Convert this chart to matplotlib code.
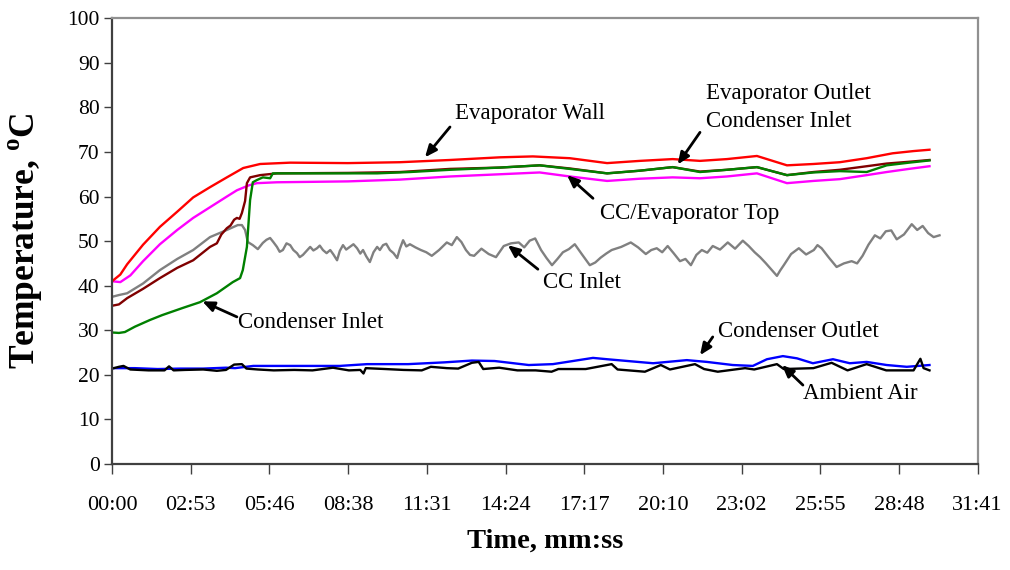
import matplotlib
matplotlib.use('Agg')
import matplotlib.pyplot as plt

# Time axis is in seconds; tick labels are mm:ss
tick_seconds = [k * 172.8 for k in range(12)]
tick_labels = ['00:00', '02:53', '05:46', '08:38', '11:31', '14:24',
               '17:17', '20:10', '23:02', '25:55', '28:48', '31:41']

# Evaporator wall (red)
wall_t = [0, 18, 33, 68, 105, 143, 178, 215, 252, 288, 325, 391, 518, 632, 742,
          852, 924, 1005, 1087, 1159, 1231, 1291, 1350, 1416, 1482, 1540, 1598,
          1657, 1714, 1760, 1795]
wall_T = [41.0, 42.5, 44.8, 49.2, 53.2, 56.6, 59.8, 62.1, 64.3, 66.4, 67.3, 67.6,
          67.5, 67.7, 68.2, 68.8, 69.0, 68.6, 67.5, 68.0, 68.4, 68.0, 68.4, 69.1,
          67.0, 67.3, 67.7, 68.6, 69.7, 70.2, 70.5]

# CC / evaporator top (magenta)
top_t = [0, 18, 40, 68, 105, 143, 178, 215, 252, 274, 300, 318, 362, 518, 632,
         742, 852, 939, 1005, 1087, 1159, 1231, 1291, 1350, 1416, 1482, 1540,
         1598, 1657, 1701, 1750, 1795]
top_T = [41.0, 40.8, 42.3, 45.5, 49.3, 52.5, 55.2, 57.6, 60.0, 61.4, 62.5, 63.0,
         63.2, 63.4, 63.8, 64.5, 65.0, 65.4, 64.5, 63.5, 64.0, 64.3, 64.1, 64.5,
         65.2, 63.0, 63.5, 63.9, 64.8, 65.5, 66.2, 66.8]

# Evaporator outlet (dark red)
outlet_t = [0, 15, 33, 68, 105, 143, 178, 215, 230, 240, 252, 260, 268, 274, 280,
            285, 292, 296, 303, 325, 362, 518, 632, 742, 852, 939, 1005, 1087,
            1159, 1231, 1291, 1350, 1416, 1482, 1540, 1598, 1657, 1701, 1750, 1795]
outlet_T = [35.5, 35.8, 37.2, 39.3, 41.7, 44.0, 45.7, 48.7, 49.5, 51.5, 52.9, 53.5,
            54.8, 55.2, 55.0, 56.3, 59.0, 63.0, 64.3, 64.8, 65.2, 65.3, 65.5, 66.2,
            66.5, 67.0, 66.3, 65.2, 65.8, 66.6, 65.6, 66.0, 66.6, 64.8, 65.5, 66.0,
            66.8, 67.4, 67.8, 68.2]

# Condenser inlet (green)
cond_in_t = [0, 15, 28, 50, 83, 110, 155, 193, 230, 265, 281, 287, 296, 303, 309,
             318, 331, 347, 353, 436, 582, 654, 742, 852, 939, 1005, 1087, 1159,
             1231, 1291, 1350, 1416, 1482, 1540, 1598, 1657, 1701, 1750, 1795]
cond_in_T = [29.5, 29.4, 29.6, 30.8, 32.3, 33.4, 35.0, 36.3, 38.3, 40.8, 41.7, 43.5,
             48.7, 59.2, 63.2, 63.7, 64.3, 64.1, 65.2, 65.2, 65.2, 65.5, 66.0, 66.5,
             67.0, 66.2, 65.2, 65.8, 66.6, 65.5, 66.0, 66.6, 64.8, 65.4, 65.7, 65.5,
             67.0, 67.6, 68.1]

# CC inlet (grey)
cc_in_t = [0, 15, 33, 68, 105, 143, 178, 215, 252, 276, 285, 292, 298,
           309, 320, 331, 339, 347, 354, 362,
           368, 375, 383, 391, 398, 406, 412, 419, 427, 435,
           442, 450, 456, 463, 471, 479, 486, 494, 500, 507,
           514, 522, 530, 538, 545, 551, 558, 566, 574, 582,
           588, 595, 602, 610, 618, 626, 632, 639, 646, 654,
           666, 678, 690, 702, 718, 735, 746, 757, 767, 777,
           786, 795, 811, 827, 843, 860, 876, 893, 905, 917,
           929, 942, 954, 966, 978, 990, 1003, 1016, 1032, 1049,
           1061, 1073, 1085, 1097, 1118, 1139, 1155, 1172, 1184, 1196,
           1208, 1220, 1233, 1247, 1259, 1271, 1283, 1295, 1307, 1319,
           1335, 1352, 1368, 1385, 1398, 1411, 1423, 1435, 1447, 1460,
           1467, 1475, 1491, 1508, 1524, 1541, 1549, 1558, 1574, 1591,
           1607, 1624, 1636, 1648, 1661, 1675, 1687, 1699, 1711, 1723,
           1739, 1756, 1768, 1780, 1792, 1804, 1817]
cc_in_T = [37.5, 37.9, 38.3, 40.5, 43.5, 46.0, 48.0, 50.9, 52.5, 53.6, 53.6, 52.5, 49.8,
           49.1, 48.2, 49.6, 50.3, 50.7, 49.8, 48.7,
           47.6, 48.0, 49.5, 49.1, 48.0, 47.3, 46.4, 46.9, 47.8, 48.7,
           47.9, 48.4, 49.0, 48.0, 47.3, 48.0, 47.0, 45.7, 47.8, 49.1,
           48.1, 48.7, 49.3, 48.4, 47.2, 48.0, 46.6, 45.3, 47.5, 48.7,
           48.0, 49.1, 49.4, 48.0, 47.3, 46.2, 48.3, 50.2, 48.8, 49.3,
           48.6, 48.0, 47.5, 46.7, 48.0, 49.7, 49.1, 50.9, 49.8, 48.0,
           46.9, 46.7, 48.3, 47.1, 46.4, 48.9, 49.5, 49.7, 48.6, 50.1,
           50.6, 48.0, 46.2, 44.6, 46.0, 47.5, 48.2, 49.3, 47.0, 44.6,
           45.2, 46.3, 47.2, 48.0, 48.7, 49.7, 48.6, 47.1, 48.0, 48.4,
           47.5, 48.9, 47.3, 45.5, 46.0, 44.6, 46.9, 48.0, 47.4, 48.9,
           48.1, 49.7, 48.3, 50.1, 48.9, 47.5, 46.4, 45.1, 43.7, 42.2,
           43.4, 44.6, 47.1, 48.4, 47.0, 48.0, 49.1, 48.4, 46.3, 44.2,
           45.0, 45.5, 45.0, 46.7, 49.2, 51.3, 50.6, 52.2, 52.4, 50.4,
           51.5, 53.8, 52.5, 53.4, 51.8, 50.9, 51.3]

# Condenser outlet (blue)
cond_out_t = [0, 50, 100, 150, 200, 250, 270, 310, 400, 500, 560, 650, 730, 790,
              840, 915, 968, 1056, 1087, 1188, 1262, 1306, 1363, 1407, 1438, 1473,
              1504, 1539, 1583, 1620, 1657, 1701, 1745, 1795]
cond_out_T = [21.5, 21.5, 21.3, 21.4, 21.4, 21.6, 21.5, 22.0, 22.0, 22.0, 22.4, 22.4,
              22.8, 23.2, 23.1, 22.2, 22.4, 23.8, 23.5, 22.6, 23.3, 22.9, 22.2, 22.0,
              23.5, 24.2, 23.7, 22.6, 23.5, 22.6, 22.9, 22.2, 21.8, 22.2]

# Ambient air (black)
air_t = [0, 15, 25, 40, 80, 115, 125, 135, 160, 200, 230, 250, 268, 285, 295, 320,
         355, 400, 440, 485, 520, 545, 552, 557, 600, 640, 680, 700, 735, 760, 790,
         805, 815, 850, 890, 930, 965, 980, 1040, 1097, 1110, 1170, 1205, 1225,
         1280, 1300, 1330, 1390, 1410, 1460, 1475, 1540, 1580, 1615, 1657, 1700,
         1760, 1775, 1782, 1795]
air_T = [21.4, 21.8, 22.0, 21.2, 21.0, 21.0, 21.9, 21.0, 21.1, 21.2, 20.9, 21.1,
         22.3, 22.4, 21.4, 21.2, 21.0, 21.1, 21.0, 21.6, 21.0, 21.1, 20.3, 21.5,
         21.3, 21.1, 21.0, 21.8, 21.5, 21.4, 22.7, 22.9, 21.3, 21.6, 21.0, 21.0,
         20.7, 21.3, 21.3, 22.4, 21.2, 20.7, 22.2, 21.2, 22.4, 21.3, 20.7, 21.5,
         21.2, 22.4, 21.3, 21.5, 22.7, 21.0, 22.4, 21.0, 21.0, 23.6, 21.5, 21.0]

plt.rcParams['font.family'] = ['Liberation Serif', 'DejaVu Serif']

fig = plt.figure(figsize=(10.1, 5.7), dpi=100)
ax = fig.add_axes([0.111, 0.186, 0.857, 0.782])

lw = 1.7
ax.plot(cc_in_t, cc_in_T, color='#808080', lw=lw)
ax.plot(top_t, top_T, color='#ff00ff', lw=lw)
ax.plot(wall_t, wall_T, color='#ff0000', lw=lw)
ax.plot(outlet_t, outlet_T, color='#800000', lw=lw)
ax.plot(cond_in_t, cond_in_T, color='#008000', lw=lw)
ax.plot(cond_out_t, cond_out_T, color='#0000ff', lw=lw)
ax.plot(air_t, air_T, color='black', lw=lw)

ax.set_xlim(0, tick_seconds[-1])
ax.set_ylim(0, 100)
ax.set_xticks(tick_seconds)
ax.set_xticklabels(tick_labels)
ax.set_yticks(range(0, 101, 10))

ax.tick_params(axis='x', length=7, width=1, colors='#404040', labelcolor='black',
               labelsize=16, pad=16)
ax.tick_params(axis='y', length=6, width=1, colors='#404040', labelcolor='black',
               labelsize=15.5, pad=3)
ax.spines['left'].set_color('#404040')
ax.spines['bottom'].set_color('#404040')
ax.spines['top'].set_color('#909090')
ax.spines['right'].set_color('#909090')
for s in ax.spines.values():
    s.set_linewidth(1.6)

ax.set_xlabel('Time, mm:ss', fontsize=20.5, fontweight='bold', labelpad=10)
ax.set_ylabel('Temperature, $^{\\mathregular{o}}$C', fontsize=25.5,
              fontweight='bold', labelpad=16)

# labels with arrows: (text, text position, arrow tail, arrow tip)
notes = [
    ('Evaporator Wall', (753, 78.7), (742, 75.6), (687, 68.8)),
    ('Evaporator Outlet\nCondenser Inlet', (1304, 80.0), (1291, 74.4), (1242, 67.2)),
    ('CC/Evaporator Top', (1071, 56.3), (1056, 59.6), (999, 64.8)),
    ('CC Inlet', (946, 40.8), (935, 43.7), (869, 49.1)),
    ('Condenser Inlet', (277, 31.8), (274, 33.0), (198, 36.5)),
    ('Condenser Outlet', (1330, 29.8), (1319, 28.5), (1291, 24.4)),
    ('Ambient Air', (1517, 15.9), (1517, 17.7), (1471, 22.2)),
]
for label, txt_pos, tail, tip in notes:
    ax.text(txt_pos[0], txt_pos[1], label, fontsize=16.5, ha='left', va='center',
            linespacing=1.45)
    ax.annotate('', xy=tip, xytext=tail,
                arrowprops=dict(arrowstyle='-|>,head_length=0.7,head_width=0.3',
                                color='black', lw=2, shrinkA=0, shrinkB=0))

fig.savefig('out.png', dpi=100)
